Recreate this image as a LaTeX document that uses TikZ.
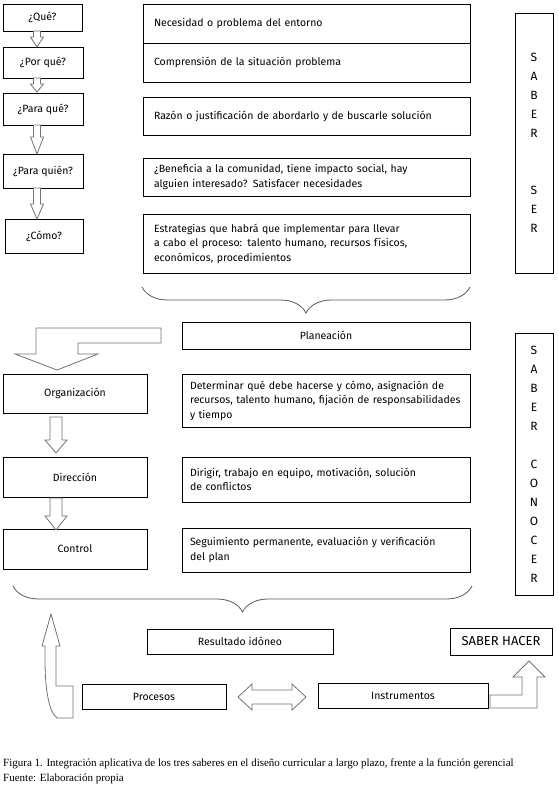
\documentclass[tikz,border=0pt]{standalone}
\usepackage{fontspec}
\setmainfont{Liberation Serif}
\newfontfamily\cajafont{Fira Sans}
\usetikzlibrary{decorations.pathreplacing}

\tikzset{
  caja/.style={draw, line width=0.8pt, inner sep=0pt, font=\cajafont\fontsize{10.5}{14.5}\selectfont},
  pregunta/.style={caja, align=center, minimum width=#1},
  texto/.style={caja, align=left, inner xsep=11pt, text width=305pt},
  plan/.style={caja, align=left, inner xsep=8pt, text width=272pt},
  saber/.style={caja, align=center, minimum width=38pt, font=\cajafont\fontsize{12}{19}\selectfont},
  flecha/.style={draw=black!55, line width=0.8pt, fill=white},
  llave/.style={draw=black!65, line width=0.8pt, decorate, decoration={brace, mirror, amplitude=26pt}},
  pie/.style={anchor=base west, inner sep=0pt, font=\fontsize{11}{13}\selectfont},
}

\begin{document}
\begin{tikzpicture}[x=1pt, y=-1pt]
  \useasboundingbox (0,0) rectangle (557,792);

  % saber ser
  \node[pregunta=79pt, minimum height=27pt] (que) at (42.5,17.5) {¿Qué?};
  \node[pregunta=80pt, minimum height=31pt] (porque) at (43,62.5) {¿Por qué?};
  \node[pregunta=80pt, minimum height=32pt] (paraque) at (43,109) {¿Para qué?};
  \node[pregunta=80pt, minimum height=34pt] (paraquien) at (43,171) {¿Para quién?};
  \node[pregunta=78pt, minimum height=34pt] (como) at (44,236) {¿Cómo?};
  \foreach \t/\w/\b in {31/37/47, 78/84/92, 125/137/154, 188/204/219}
    \draw[flecha] (33.5,\t) -- (40.5,\t) -- (40.5,\w) -- (43.5,\w) -- (37,\b) -- (30.5,\w) -- (33.5,\w) -- cycle;

  \node[texto, minimum height=39pt] (necesidad) at (306.5,23.5) {Necesidad o problema del entorno};
  \node[texto, minimum height=39pt] (comprension) at (306.5,62.5) {Comprensión de la situación problema};
  \node[texto, minimum height=38pt] (razon) at (306.5,116) {Razón o justificación de abordarlo y de buscarle solución};
  \node[texto, minimum height=38pt] (beneficia) at (306.5,177) {¿Beneficia a la comunidad, tiene impacto social, hay\\alguien interesado? Satisfacer necesidades};
  \node[texto, minimum height=59pt] (estrategias) at (306.5,243.5) {Estrategias que habrá que implementar para llevar\\a cabo el proceso: talento humano, recursos físicos,\\económicos, procedimientos};
  \node[saber, minimum height=260pt] (ser) at (534,143) {S\\A\\B\\E\\R\\[38pt]S\\E\\R};
  \draw[llave] (142,287) -- (470,287);

  % saber conocer
  \node[pregunta=288pt, minimum height=27pt] (planeacion) at (326,335.5) {Planeación};
  \draw[flecha] (36,328) -- (161,328) -- (161,343) -- (78,343) -- (78,354) -- (98,354) -- (57,370) -- (15,354) -- (36,354) -- cycle;
  \node[pregunta=144pt, minimum height=39pt] (organizacion) at (75,393.5) {Organización};
  \node[pregunta=144pt, minimum height=40pt] (direccion) at (75,477) {Dirección};
  \node[pregunta=144pt, minimum height=40pt] (control) at (75,549) {Control};
  \foreach \t/\w/\b in {417/440/453, 498/516/530}
    \draw[flecha] (50,\t) -- (62,\t) -- (62,\w) -- (67,\w) -- (56,\b) -- (45,\w) -- (50,\w) -- cycle;
  \node[plan, minimum height=53pt] (determinar) at (326,400.5) {Determinar qué debe hacerse y cómo, asignación de\\recursos, talento humano, fijación de responsabilidades\\y tiempo};
  \node[plan, minimum height=45pt] (dirigir) at (326,479.5) {Dirigir, trabajo en equipo, motivación, solución\\de conflictos};
  \node[plan, minimum height=44pt] (seguimiento) at (326,550) {Seguimiento permanente, evaluación y verificación\\del plan};
  \node[saber, minimum height=262pt] (conocer) at (534,464) {S\\A\\B\\E\\R\\[19pt]C\\O\\N\\O\\C\\E\\R};
  \draw[llave] (13,586) -- (472,586);

  % saber hacer
  \node[pregunta=186pt, minimum height=25pt] (resultado) at (240,641.5) {Resultado idóneo};
  \node[pregunta=102pt, minimum height=27pt, font=\cajafont\fontsize{13}{15}\selectfont] (hacer) at (501,641.5) {SABER HACER};
  \node[pregunta=144pt, minimum height=25pt] (procesos) at (154,696.5) {Procesos};
  \node[pregunta=170pt, minimum height=25pt] (instrumentos) at (403,695.5) {Instrumentos};
  \draw[flecha] (238,697) -- (252,684) -- (252,690) -- (292,690) -- (292,684) -- (306,697)
    -- (292,710) -- (292,704) -- (252,704) -- (252,710) -- cycle;
  \draw[flecha] (51,614) -- (60,646) -- (56,646) -- (56,686) -- (73,686) -- (73,718) -- (57,718)
    .. controls (49,712) and (45,690) .. (45,660) -- (45,646) -- (42,646) -- cycle;
  \draw[flecha] (490,695) -- (522,695) -- (522,677) -- (513,677) -- (529,661) -- (545,677)
    -- (537,677) -- (537,708) -- (490,708) -- cycle;

  \node[pie] (figura) at (3,766)
    {Figura 1. Integración aplicativa de los tres saberes en el diseño curricular a largo plazo, frente a la función gerencial};
  \node[pie] (fuente) at (3,781) {Fuente: Elaboración propia};
\end{tikzpicture}
\end{document}
